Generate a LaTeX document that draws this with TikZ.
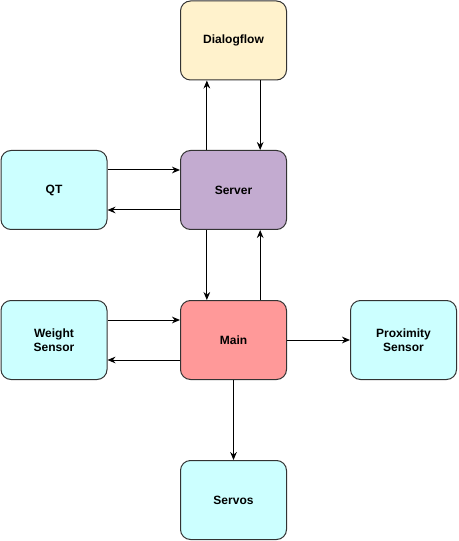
\documentclass[tikz,border=0pt]{standalone}
\usepackage{fontspec}
\setmainfont{Liberation Sans}
\usetikzlibrary{arrows.meta}

\definecolor{dlgcol}{HTML}{FFF2CC}
\definecolor{srvcol}{HTML}{C3ABD0}
\definecolor{maincol}{HTML}{FF9999}
\definecolor{devcol}{HTML}{CCFFFF}

\tikzset{
  block/.style={draw=black!80, line width=0.75pt, rounded corners=7.5pt,
    minimum width=79.5pt, minimum height=59.25pt, inner sep=0pt,
    align=center, font=\fontsize{9}{10.5}\selectfont\bfseries},
  arr/.style={-{Stealth[length=6pt,width=5pt]}, line width=0.75pt}
}

\begin{document}
\begin{tikzpicture}[x=0.75pt,y=-0.75pt]
\useasboundingbox (0,0) rectangle (458,541);

% blocks
\node[block, fill=dlgcol]  (dlg)  at (233.5,40.5) {Dialogflow};
\node[block, fill=srvcol]  (srv)  at (233.5,190)  {Server};
\node[block, fill=devcol]  (qt)   at (54,190)     {QT};
\node[block, fill=maincol] (main) at (233.5,340)  {Main};
\node[block, fill=devcol]  (wgt)  at (54,340)     {Weight\\Sensor};
\node[block, fill=devcol]  (prox) at (403.5,340)  {Proximity\\Sensor};
\node[block, fill=devcol]  (srvo) at (233.5,500)  {Servos};

% server <-> dialogflow
\draw[arr] ([xshift=-20pt]srv.north) -- ([xshift=-20pt]dlg.south);
\draw[arr] ([xshift=20pt]dlg.south) -- ([xshift=20pt]srv.north);

% qt <-> server
\draw[arr] ([yshift=15pt]qt.east) -- ([yshift=15pt]srv.west);
\draw[arr] ([yshift=-15pt]srv.west) -- ([yshift=-15pt]qt.east);

% server <-> main
\draw[arr] ([xshift=-20pt]srv.south) -- ([xshift=-20pt]main.north);
\draw[arr] ([xshift=20pt]main.north) -- ([xshift=20pt]srv.south);

% weight sensor <-> main
\draw[arr] ([yshift=15pt]wgt.east) -- ([yshift=15pt]main.west);
\draw[arr] ([yshift=-15pt]main.west) -- ([yshift=-15pt]wgt.east);

% main -> outputs
\draw[arr] (main.east) -- (prox.west);
\draw[arr] (main.south) -- (srvo.north);
\end{tikzpicture}
\end{document}
